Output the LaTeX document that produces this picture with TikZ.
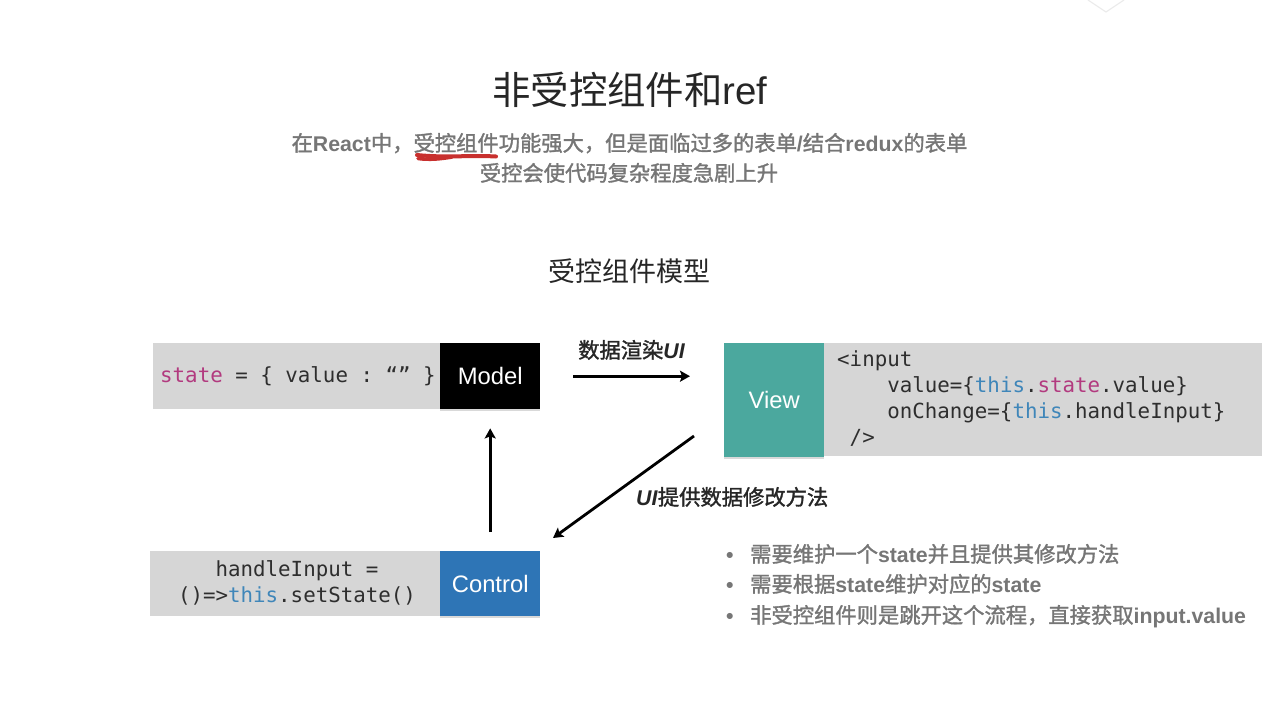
\documentclass[tikz,border=0pt]{standalone}
\usepackage{fontspec}
\setmainfont{Liberation Sans}
\setmonofont{DejaVu Sans Mono}
\newfontfamily\cjk[BoldFont={Noto Sans CJK SC}, BoldFeatures={FakeBold=1.5}]{Noto Sans CJK SC}
\usetikzlibrary{positioning}
\usetikzlibrary{arrows.meta}
\usetikzlibrary{shadows}
\definecolor{bargray}{HTML}{D6D6D6}
\definecolor{viewteal}{HTML}{4BA89E}
\definecolor{ctrlblue}{HTML}{2E75B6}
\definecolor{textgray}{HTML}{767676}
\definecolor{codeblack}{HTML}{2E2E2E}
\definecolor{kwpink}{HTML}{B23A7F}
\definecolor{kwblue}{HTML}{3F86B9}
\definecolor{markred}{HTML}{C8302E}
\newcommand{\kwthis}{\textcolor{kwblue}{this}}
\newcommand{\kwstate}{\textcolor{kwpink}{state}}
\tikzset{
	bar/.style={fill=bargray, inner sep=0pt, anchor=north west},
	headbox/.style={inner sep=0pt, anchor=north west, text=white, font=\fontsize{23.8}{26}\selectfont, drop shadow={opacity=0.3, shadow xshift=0pt, shadow yshift=-1.5pt}},
	code/.style={inner sep=0pt, text=codeblack, font=\fontsize{20.8}{26}\selectfont\ttfamily},
	graytext/.style={inner sep=0pt, anchor=base, text=textgray, font=\fontsize{21.3}{26}\selectfont\bfseries},
	bullettext/.style={graytext, anchor=base west},
	flowlabel/.style={inner sep=0pt, anchor=base west, text=black!85, font=\fontsize{21.3}{26}\selectfont\bfseries},
	flow/.style={draw=black, line width=2.8pt, -{Stealth[length=10pt, width=11pt, inset=2pt]}}
}
\begin{document}
\begin{tikzpicture}[x=1pt, y=-1pt]
	\useasboundingbox (0, 0) rectangle (1286, 702);
	% headings
	\node (title) at (630, 104.5) [inner sep=0pt, anchor=base, text=black!85, font=\fontsize{38.4}{42}\selectfont] {{\cjk 非受控组件和}ref};
	\node (introa) at (629.5, 151) [graytext] {{\cjk 在}React{\cjk 中，受控组件功能强大，但是面临过多的表单}/{\cjk 结合}redux{\cjk 的表单}};
	\node (introb) at (629, 181) [graytext] {\cjk\bfseries 受控会使代码复杂程度急剧上升};
	\node (modeltitle) at (629, 281) [inner sep=0pt, anchor=base, text=black!85, font=\fontsize{27}{30}\selectfont] {\cjk 受控组件模型};
	\draw [markred, line width=4pt, line cap=round] (417, 155) .. controls (445, 158) and (470, 155) .. (496, 156.5);
	\draw [markred, line width=3.6pt, line cap=round] (418, 158.5) .. controls (430, 160) and (440, 159) .. (452, 157);
	% model row
	\node (statebar) at (153, 343) [bar, minimum width=287pt, minimum height=66pt] {};
	\node (model) at (440, 343) [headbox, fill=black, minimum width=100pt, minimum height=66pt] {Model};
	\node (statecode) at (160, 382) [code, anchor=base west] {\kwstate{} = \{ value : “” \}};
	% view row
	\node (viewbar) at (824, 343) [bar, minimum width=438pt, minimum height=113pt] {};
	\node (view) at (724, 343) [headbox, fill=viewteal, minimum width=100pt, minimum height=114pt] {View};
	\node (viewcode) at (837, 343) [code, anchor=north west, align=left, yshift=-7pt] {<input\\
		~~~~value=\{\kwthis.\kwstate.value\}\\
		~~~~onChange=\{\kwthis.handleInput\}\\
		~/>};
	% control row
	\node (controlbar) at (150, 551) [bar, minimum width=290pt, minimum height=65pt] {};
	\node (control) at (440, 551) [headbox, fill=ctrlblue, minimum width=100pt, minimum height=65pt] {Control};
	\node (controlcode) at (297, 583) [code, align=center] {handleInput =\\()=>\kwthis.setState()};
	% connectors
	\coordinate (viewfoot) at (694, 436);
	\coordinate (controlhead) at (553, 538);
	\draw [flow, shorten <=33pt, shorten >=34pt] (model.east) -- (view.west |- model.east);
	\draw [flow, shorten <=19pt, shorten >=19pt] (control.north) -- (model.south);
	\draw [flow] (viewfoot) -- (controlhead);
	\node (renderlabel) at (578, 358) [flowlabel] {{\cjk 数据渲染}\textit{UI}};
	\node (changelabel) at (636, 505) [flowlabel] {\textit{UI}{\cjk 提供数据修改方法}};
	% notes
	\node (notea) at (726, 562) [bullettext] {\makebox[24pt][l]{•}{\cjk 需要维护一个}state{\cjk 并且提供其修改方法}};
	\node (noteb) at (726, 592) [bullettext] {\makebox[24pt][l]{•}{\cjk 需要根据}state{\cjk 维护对应的}state};
	\node (notec) at (726, 623) [bullettext] {\makebox[24pt][l]{•}{\cjk 非受控组件则是跳开这个流程，直接获取}input.value};
	% watermark
	\draw [black!8, line width=1.2pt] (1088, 0) -- (1106, 12) -- (1124, 0);
\end{tikzpicture}
\end{document}
